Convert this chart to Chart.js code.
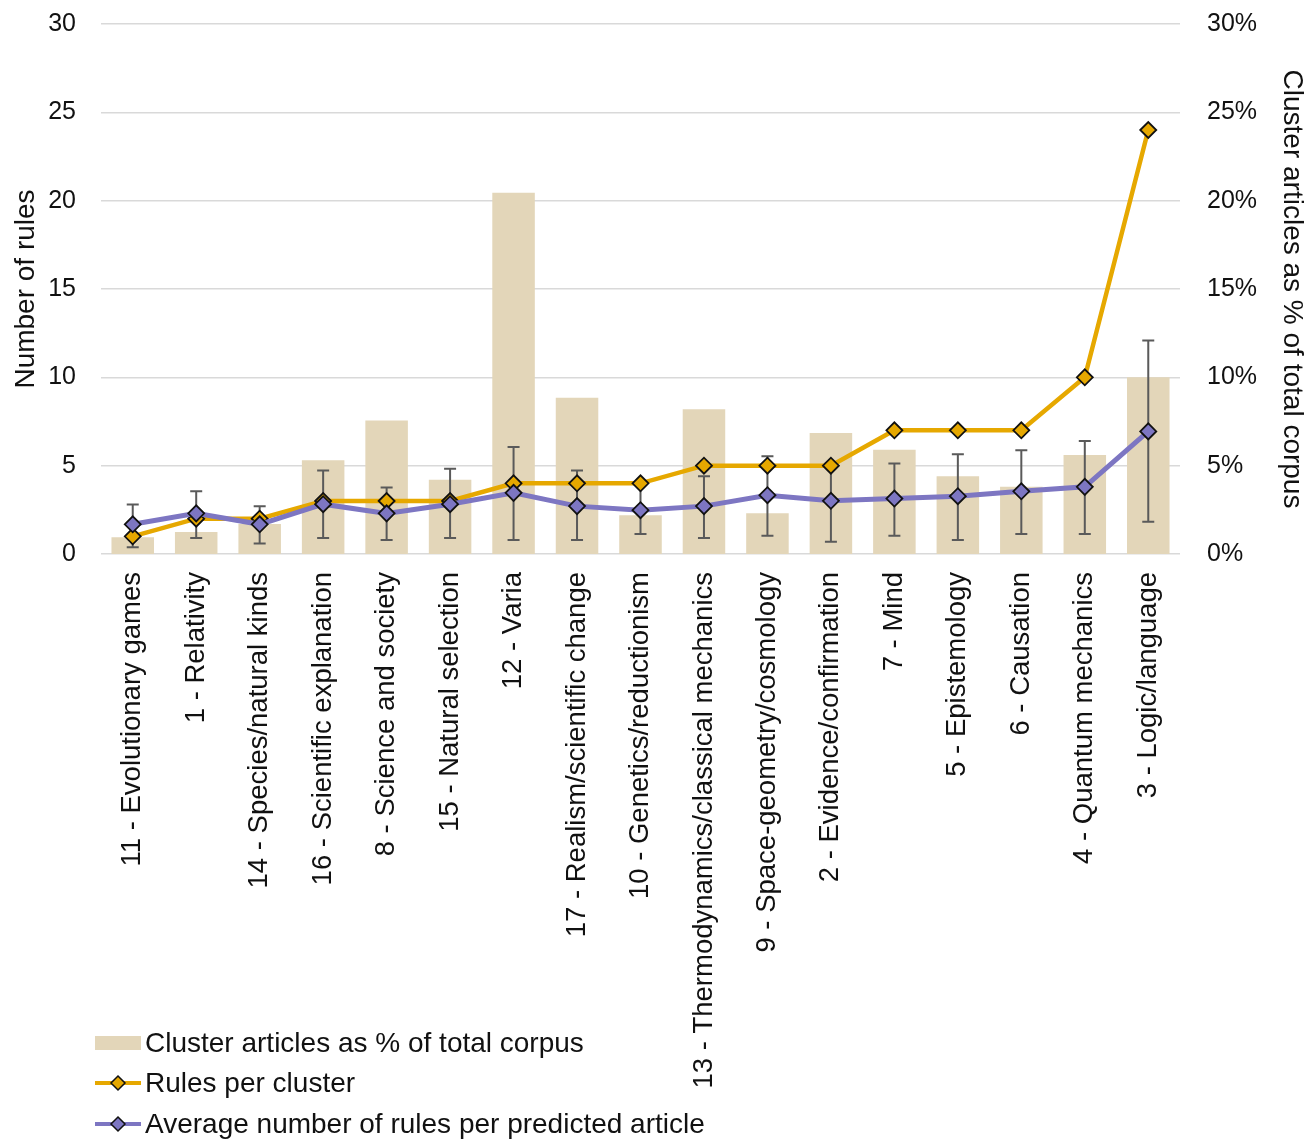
<!DOCTYPE html>
<html lang="en">
<head>
    <meta charset="UTF-8">
    <title>Rules per cluster</title>
    <style>
        * { margin: 0; padding: 0; box-sizing: border-box; }
        body { background: #fff; }
        .wrap { position: relative; width: 1315px; height: 1139px; }
    </style>
</head>
<body>
    <div class="wrap">
        <canvas id="rulesChart"></canvas>
    </div>

    <script src="https://cdn.jsdelivr.net/npm/chart.js"></script>
    <script>
        // Clusters, sorted by number of rules
        const clusters = [
            '11 - Evolutionary games', '1 - Relativity', '14 - Species/natural kinds',
            '16 - Scientific explanation', '8 - Science and society', '15 - Natural selection',
            '12 - Varia', '17 - Realism/scientific change', '10 - Genetics/reductionism',
            '13 - Thermodynamics/classical mechanics', '9 - Space-geometry/cosmology',
            '2 - Evidence/confirmation', '7 - Mind', '5 - Epistemology', '6 - Causation',
            '4 - Quantum mechanics', '3 - Logic/language'
        ];
        // % of the corpus in each cluster (right axis)
        const corpusShare = [0.95, 1.25, 1.7, 5.3, 7.55, 4.2, 20.45, 8.85, 2.2, 8.2, 2.3, 6.85, 5.9, 4.4, 3.8, 5.6, 10.0];
        const rulesPerCluster = [1, 2, 2, 3, 3, 3, 4, 4, 4, 5, 5, 5, 7, 7, 7, 10, 24];
        const avgRules = [1.68, 2.3, 1.68, 2.82, 2.3, 2.82, 3.46, 2.71, 2.48, 2.71, 3.33, 3.01, 3.14, 3.27, 3.55, 3.8, 6.94];
        // whiskers around the average
        const avgHigh = [2.8, 3.55, 2.7, 4.72, 3.76, 4.82, 6.06, 4.72, 3.95, 4.4, 5.53, 5.15, 5.12, 5.64, 5.87, 6.39, 12.08];
        const avgLow = [0.38, 0.9, 0.6, 0.9, 0.79, 0.9, 0.79, 0.79, 1.13, 0.9, 1.03, 0.7, 1.03, 0.79, 1.13, 1.13, 1.82];

        const FONT = "'Liberation Sans', Arial, Helvetica, sans-serif";
        const TAN = '#E3D6B9';
        const ORANGE = '#E6A800';
        const PURPLE = '#7D76C2';
        const TEXT = '#111';

        // whiskers go on top of the bars but under both lines
        const errorBars = {
            id: 'errorBars',
            afterDatasetDraw(chart, args) {
                if (args.meta.type !== 'bar') return;
                const ctx = chart.ctx;
                const x = chart.scales.x, y = chart.scales.y;
                ctx.save();
                ctx.strokeStyle = '#5a5a5a';
                ctx.lineWidth = 2;
                avgRules.forEach((v, i) => {
                    const px = x.getPixelForValue(i);
                    const top = y.getPixelForValue(avgHigh[i]);
                    const bot = y.getPixelForValue(avgLow[i]);
                    ctx.beginPath();
                    ctx.moveTo(px, top); ctx.lineTo(px, bot);
                    ctx.moveTo(px - 6, top); ctx.lineTo(px + 6, top);
                    ctx.moveTo(px - 6, bot); ctx.lineTo(px + 6, bot);
                    ctx.stroke();
                });
                ctx.restore();
            }
        };

        // legend stacked in three rows at the bottom left
        const stackedLegend = {
            id: 'stackedLegend',
            afterDraw(chart) {
                const ctx = chart.ctx;
                const rows = [
                    { text: 'Cluster articles as % of total corpus', kind: 'bar', color: TAN, y: 1043 },
                    { text: 'Rules per cluster', kind: 'line', color: ORANGE, y: 1083 },
                    { text: 'Average number of rules per predicted article', kind: 'line', color: PURPLE, y: 1124 }
                ];
                ctx.save();
                ctx.font = '28px ' + FONT;
                ctx.textBaseline = 'middle';
                ctx.fillStyle = TEXT;
                rows.forEach(r => {
                    if (r.kind === 'bar') {
                        ctx.fillStyle = r.color;
                        ctx.fillRect(95, r.y - 7, 46, 14);
                    } else {
                        ctx.strokeStyle = r.color;
                        ctx.lineWidth = 4;
                        ctx.beginPath();
                        ctx.moveTo(95, r.y); ctx.lineTo(141, r.y);
                        ctx.stroke();
                        ctx.beginPath();
                        ctx.moveTo(118, r.y - 7); ctx.lineTo(125, r.y);
                        ctx.lineTo(118, r.y + 7); ctx.lineTo(111, r.y);
                        ctx.closePath();
                        ctx.fillStyle = r.color;
                        ctx.fill();
                        ctx.strokeStyle = '#111';
                        ctx.lineWidth = 1.5;
                        ctx.stroke();
                    }
                    ctx.fillStyle = TEXT;
                    ctx.fillText(r.text, 145, r.y + 1);
                });
                ctx.restore();
            }
        };

        // keep the plot area edges fixed regardless of label overflow
        function fixVertical(width) {
            return s => { s.width = width; s.paddingTop = 0; s.paddingBottom = 0; };
        }

        new Chart(document.getElementById('rulesChart'), {
            data: {
                labels: clusters,
                datasets: [
                    {
                        type: 'bar',
                        label: 'Cluster articles as % of total corpus',
                        data: corpusShare,
                        yAxisID: 'y2',
                        backgroundColor: TAN,
                        barPercentage: 0.67,
                        categoryPercentage: 1,
                        order: 3
                    },
                    {
                        type: 'line',
                        label: 'Rules per cluster',
                        data: rulesPerCluster,
                        yAxisID: 'y',
                        borderColor: ORANGE,
                        borderWidth: 4.5,
                        pointStyle: 'rectRot',
                        pointRadius: 8,
                        pointBackgroundColor: ORANGE,
                        pointBorderColor: '#111',
                        pointBorderWidth: 1.8,
                        tension: 0,
                        order: 2
                    },
                    {
                        type: 'line',
                        label: 'Average number of rules per predicted article',
                        data: avgRules,
                        yAxisID: 'y',
                        borderColor: PURPLE,
                        borderWidth: 5,
                        pointStyle: 'rectRot',
                        pointRadius: 8,
                        pointBackgroundColor: PURPLE,
                        pointBorderColor: '#111',
                        pointBorderWidth: 1.8,
                        tension: 0,
                        order: 1
                    }
                ]
            },
            options: {
                responsive: true,
                maintainAspectRatio: false,
                animation: false,
                layout: { padding: { top: 24, bottom: 0, left: 0, right: 0 } },
                plugins: {
                    legend: { display: false },
                    tooltip: { enabled: false }
                },
                scales: {
                    x: {
                        grid: { display: false, drawTicks: false },
                        border: { display: false },
                        ticks: {
                            minRotation: 90, maxRotation: 90, autoSkip: false,
                            padding: 18, color: TEXT,
                            font: { family: FONT, size: 27.5 }
                        },
                        afterFit(s) { s.height = 585; s.paddingLeft = 0; s.paddingRight = 0; }
                    },
                    y: {
                        position: 'left',
                        min: 0, max: 30,
                        grid: { color: '#D9D9D9', lineWidth: 1.5, drawTicks: false },
                        border: { display: false },
                        ticks: {
                            stepSize: 5, padding: 25, color: TEXT,
                            font: { family: FONT, size: 25 }
                        },
                        title: {
                            display: true, text: 'Number of rules', color: TEXT,
                            font: { family: FONT, size: 28 }, padding: { top: 9, bottom: 0 }
                        },
                        afterFit: fixVertical(101)
                    },
                    y2: {
                        position: 'right',
                        min: 0, max: 30,
                        grid: { display: false, drawTicks: false },
                        border: { display: false },
                        ticks: {
                            stepSize: 5, padding: 27, color: TEXT,
                            font: { family: FONT, size: 25 },
                            callback: v => v + '%'
                        },
                        title: {
                            display: true, text: 'Cluster articles as % of total corpus', color: TEXT,
                            font: { family: FONT, size: 28 }, padding: { top: 6, bottom: 0 }
                        },
                        afterFit: fixVertical(135)
                    }
                }
            },
            plugins: [errorBars, stackedLegend]
        });
    </script>
</body>
</html>
